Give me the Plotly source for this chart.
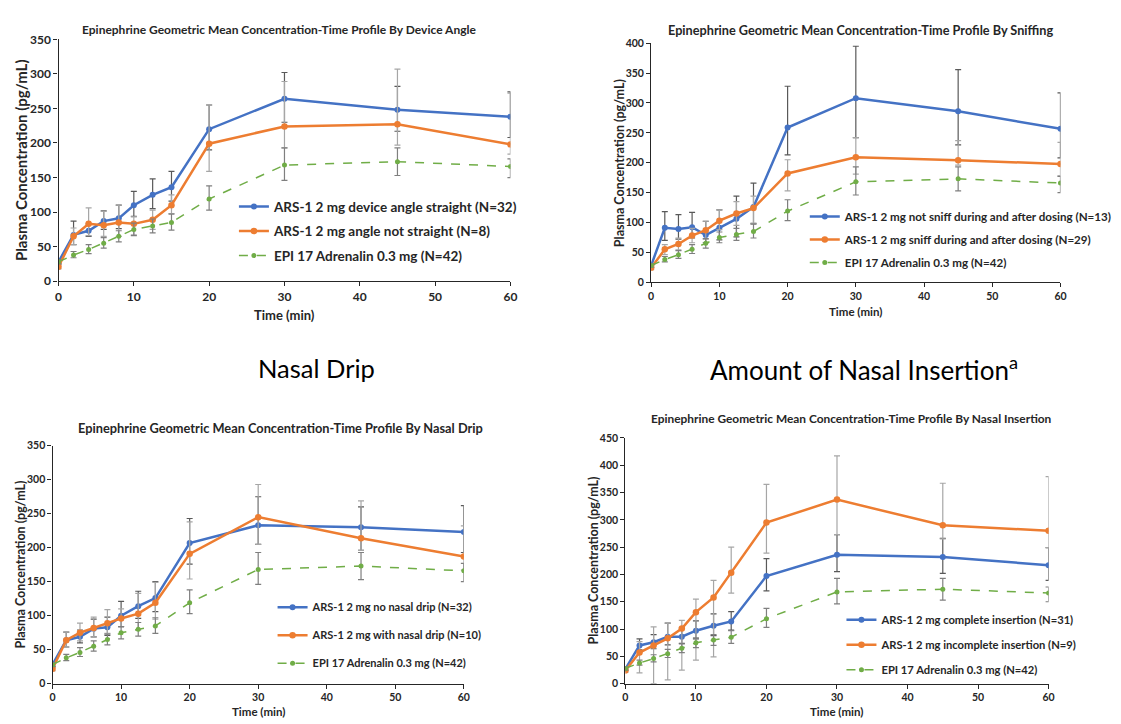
import plotly.graph_objects as go

W, H = 1121, 724

# Sampling times (min)
time_min = [0, 2, 4, 6, 8, 10, 12.5, 15, 20, 30, 45, 60]

# EPI 17 Adrenalin 0.3 mg reference arm (shared by all four profiles)
epi_mean = [28, 38, 46, 55, 65, 75, 80, 85, 119, 168, 173, 166]
epi_up = [3, 5, 7, 8, 8, 9, 10, 12, 19, 25, 20, 11]
epi_dn = [3, 4, 6, 7, 8, 9, 10, 11, 16, 22, 20, 16]

# Device angle
angle_straight = [28, 67, 73, 87, 91, 110, 125, 136, 220, 264, 248, 238]
angle_straight_up = [3, 20, 10, 15, 19, 20, 23, 23, 35, 38, 34, 36]
angle_straight_dn = [3, 14, 8, 12, 15, 16, 20, 20, 30, 34, 31, 30]
angle_not = [21, 65, 83, 81, 85, 83, 89, 110, 199, 224, 227, 198]
angle_not_up = [3, 12, 23, 20, 25, 10, 14, 15, 56, 65, 80, 74]
angle_not_dn = [3, 12, 17, 16, 20, 16, 14, 12, 40, 31, 30, 14]

# Sniffing
no_sniff = [28, 91, 89, 92, 79, 91, 106, 126, 259, 308, 286, 257]
no_sniff_up = [3, 27, 24, 25, 23, 30, 38, 40, 69, 87, 70, 60]
no_sniff_dn = [3, 21, 17, 18, 13, 20, 30, 28, 46, 66, 56, 49]
sniff = [24, 55, 64, 78, 87, 103, 115, 124, 182, 209, 204, 198]
sniff_up = [3, 8, 10, 12, 15, 18, 20, 20, 23, 33, 33, 36]
sniff_dn = [3, 9, 10, 12, 15, 15, 20, 25, 29, 28, 8, 20]

# Nasal drip
no_drip = [28, 64, 69, 81, 83, 100, 114, 126, 207, 233, 230, 223]
no_drip_up = [3, 12, 10, 14, 15, 21, 22, 24, 36, 42, 30, 39]
no_drip_dn = [3, 10, 9, 12, 12, 16, 18, 20, 31, 28, 34, 30]
drip = [22, 64, 75, 82, 89, 96, 103, 119, 191, 245, 214, 187]
drip_up = [3, 12, 14, 16, 20, 14, 30, 30, 47, 48, 55, 45]
drip_dn = [3, 10, 12, 13, 15, 12, 24, 24, 37, 40, 18, 20]

# Amount of nasal insertion
complete_ins = [27, 70, 76, 86, 86, 97, 106, 114, 197, 236, 232, 217]
complete_ins_up = [3, 12, 14, 25, 16, 18, 22, 18, 32, 37, 34, 32]
complete_ins_dn = [3, 8, 12, 15, 12, 15, 18, 16, 27, 31, 30, 28]
incomplete_ins = [24, 57, 70, 83, 101, 131, 158, 203, 295, 337, 290, 280]
incomplete_ins_up = [3, 20, 34, 28, 15, 24, 31, 47, 70, 80, 77, 99]
incomplete_ins_dn = [3, 37, 70, 76, 76, 88, 109, 37, 56, 64, 25, 31]

BLUE = "#4472C4"
ORANGE = "#ED7D31"
GREEN = "#70AD47"
FONT = "Lato"

panels = [
    dict(
        title="Epinephrine Geometric Mean Concentration-Time Profile By Device Angle",
        box=(56, 512, 32, 279), ymax=350, title_xy=(278, 22), xt_y=313, yt_x=18,
        tick_size=12, title_size=12, axis_title_size=15, xtitle_size=13, legend_size=13.5,
        legend_xy=(233, 187), gap=4,
        series=[
            ("ARS-1 2 mg device angle straight (N=32)", angle_straight, angle_straight_up, angle_straight_dn),
            ("ARS-1 2 mg angle not straight (N=8)", angle_not, angle_not_up, angle_not_dn),
        ],
    ),
    dict(
        title="Epinephrine Geometric Mean Concentration-Time Profile By Sniffing",
        box=(654, 1067, 36, 280), ymax=400, title_xy=(865, 22), xt_y=310, yt_x=622,
        tick_size=10.5, title_size=12.7, axis_title_size=12.5, xtitle_size=11.5, legend_size=11.6,
        legend_xy=(809, 198), gap=4,
        series=[
            ("ARS-1 2 mg not sniff during and after dosing (N=13)", no_sniff, no_sniff_up, no_sniff_dn),
            ("ARS-1 2 mg sniff during and after dosing (N=29)", sniff, sniff_up, sniff_dn),
        ],
    ),
    dict(
        title="Epinephrine Geometric Mean Concentration-Time Profile By Nasal Drip",
        box=(50, 465, 447, 690), ymax=350, title_xy=(280, 429), xt_y=718, yt_x=18,
        tick_size=10.5, title_size=12.8, axis_title_size=12.5, xtitle_size=11.5, legend_size=11,
        legend_xy=(272, 597), gap=9,
        series=[
            ("ARS-1 2 mg no nasal drip (N=32)", no_drip, no_drip_up, no_drip_dn),
            ("ARS-1 2 mg with nasal drip (N=10)", drip, drip_up, drip_dn),
        ],
    ),
    dict(
        title="Epinephrine Geometric Mean Concentration-Time Profile By Nasal Insertion",
        box=(628, 1055, 439, 690), ymax=450, title_xy=(856, 419), xt_y=718, yt_x=596,
        tick_size=10.5, title_size=11.9, axis_title_size=12.5, xtitle_size=11.5, legend_size=11.2,
        legend_xy=(846, 610), gap=6,
        series=[
            ("ARS-1 2 mg complete insertion (N=31)", complete_ins, complete_ins_up, complete_ins_dn),
            ("ARS-1 2 mg incomplete insertion (N=9)", incomplete_ins, incomplete_ins_up, incomplete_ins_dn),
        ],
    ),
]

fig = go.Figure()
annotations = []
layout = {}

for i, p in enumerate(panels, start=1):
    sfx = "" if i == 1 else str(i)
    xa, ya = "x" + sfx, "y" + sfx
    lg = "legend" + sfx
    x0, x1, ytop, ybot = p["box"]

    styles = [
        (BLUE, "solid", 2.5, 6, "#595959"),
        (ORANGE, "solid", 2.5, 6.5, "#A6A6A6"),
    ]
    for k, (name, ys, up, dn) in enumerate(p["series"]):
        col, dash, lw, ms, ecol = styles[k]
        fig.add_trace(go.Scatter(
            x=time_min, y=ys, name=name, mode="lines+markers",
            line=dict(color=col, width=lw, dash=dash),
            marker=dict(color=col, size=ms, symbol="circle"),
            error_y=dict(type="data", symmetric=False, array=up, arrayminus=dn,
                         color=ecol, thickness=1.2, width=3),
            xaxis=xa, yaxis=ya, legend=lg, legendgroup=f"{i}-{k}",
        ))
    fig.add_trace(go.Scatter(
        x=time_min, y=epi_mean, name="EPI 17 Adrenalin 0.3 mg (N=42)", mode="lines+markers",
        line=dict(color=GREEN, width=1.5, dash="dash"),
        marker=dict(color=GREEN, size=5, symbol="circle"),
        error_y=dict(type="data", symmetric=False, array=epi_up, arrayminus=epi_dn,
                     color="#7F7F7F", thickness=1.2, width=3),
        xaxis=xa, yaxis=ya, legend=lg, legendgroup=f"{i}-epi",
    ))

    axis_font = dict(family=FONT, size=p["tick_size"], color="#262626", weight="bold")
    layout["xaxis" + sfx] = dict(
        domain=[x0 / W, x1 / W], range=[0, 60], anchor=ya, tickvals=[0, 10, 20, 30, 40, 50, 60],
        showgrid=False, zeroline=False, showline=True, linecolor="#262626", linewidth=1.3,
        ticks="outside", ticklen=4, tickcolor="#262626", tickfont=axis_font,
    )
    layout["yaxis" + sfx] = dict(
        domain=[1 - ybot / H, 1 - ytop / H], range=[0, p["ymax"]], anchor=xa, dtick=50,
        showgrid=False, zeroline=False, showline=True, linecolor="#262626", linewidth=1.3,
        ticks="outside", ticklen=4, tickcolor="#262626", tickfont=axis_font,
    )
    layout[lg] = dict(
        x=p["legend_xy"][0] / W, y=1 - p["legend_xy"][1] / H, xanchor="left", yanchor="top",
        bgcolor="rgba(0,0,0,0)", font=dict(family=FONT, size=p["legend_size"], color="#262626", weight="bold"),
        traceorder="grouped", tracegroupgap=p["gap"], itemwidth=30,
    )

    # panel title, axis titles
    annotations.append(dict(
        text=p["title"], x=p["title_xy"][0] / W, y=1 - p["title_xy"][1] / H, xref="paper", yref="paper",
        showarrow=False, xanchor="center", yanchor="middle",
        font=dict(family=FONT, size=p["title_size"], color="#262626", weight="bold"),
    ))
    annotations.append(dict(
        text="Time (min)", x=(x0 + x1) / 2 / W, y=1 - p["xt_y"] / H, xref="paper", yref="paper",
        showarrow=False, xanchor="center", yanchor="middle",
        font=dict(family=FONT, size=p["xtitle_size"], color="#262626", weight="bold"),
    ))
    annotations.append(dict(
        text="Plasma Concentration (pg/mL)", x=p["yt_x"] / W, y=1 - (ytop + ybot) / 2 / H,
        xref="paper", yref="paper", showarrow=False, textangle=-90,
        xanchor="center", yanchor="middle",
        font=dict(family=FONT, size=p["axis_title_size"], color="#262626", weight="bold"),
    ))

# section headings between the rows
annotations.append(dict(
    text="Nasal Drip", x=316 / W, y=1 - 368 / H, xref="paper", yref="paper",
    showarrow=False, xanchor="center", yanchor="middle",
    font=dict(family=FONT, size=25.5, color="#000000"),
))
annotations.append(dict(
    text="Amount of Nasal Insertion<sup>a</sup>",
    x=869 / W, y=1 - 368 / H, xref="paper", yref="paper",
    showarrow=False, xanchor="center", yanchor="middle",
    font=dict(family=FONT, size=26, color="#000000"),
))

fig.update_layout(
    width=W, height=H, margin=dict(l=0, r=0, t=0, b=0),
    paper_bgcolor="white", plot_bgcolor="white",
    showlegend=True, annotations=annotations, **layout,
)

fig.write_html("out.html")
